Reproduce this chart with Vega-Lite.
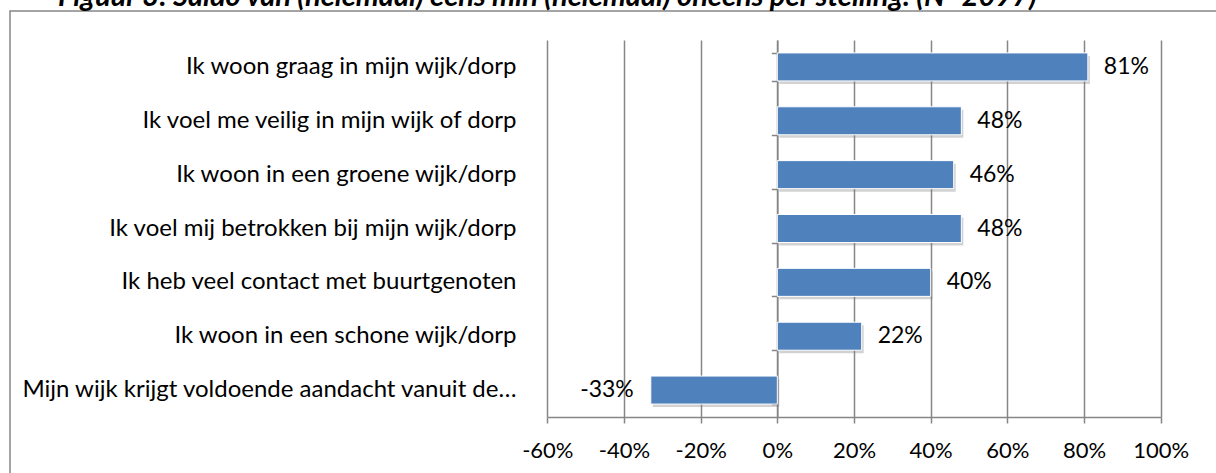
{
  "$schema": "https://vega.github.io/schema/vega-lite/v6.json",
  "autosize": {"type": "none"},
  "width": 1207,
  "height": 463,
  "padding": {"left": 10, "top": 11, "right": -1, "bottom": -1},
  "background": "white",
  "title": {
    "text": "Figuur 3: Saldo van (helemaal) eens min (helemaal) oneens per stelling. (N=2097)",
    "anchor": "start",
    "frame": "group",
    "dx": 48,
    "dy": 24,
    "font": "Lato",
    "fontSize": 29,
    "fontStyle": "italic",
    "fontWeight": "bold",
    "color": "#000000",
    "baseline": "alphabetic",
    "offset": 0
  },
  "config": {
    "locale": {"number": {"decimal": ".", "thousands": ",", "grouping": [3], "currency": ["", ""], "minus": "-"}},
    "view": {"stroke": "#868686", "strokeWidth": 1.5},
    "axis": {
      "labelFont": "Lato",
      "labelColor": "#000000",
      "domainColor": "#868686",
      "tickColor": "#868686",
      "gridColor": "#868686",
      "domainWidth": 1.5,
      "tickWidth": 1.5,
      "gridWidth": 1.5
    }
  },
  "data": {
    "values": [
      {"stelling": "Ik woon graag in mijn wijk/dorp", "saldo": 0.81},
      {"stelling": "Ik voel me veilig in mijn wijk of dorp", "saldo": 0.48},
      {"stelling": "Ik woon in een groene wijk/dorp", "saldo": 0.46},
      {"stelling": "Ik voel mij betrokken bij mijn wijk/dorp", "saldo": 0.48},
      {"stelling": "Ik heb veel contact met buurtgenoten", "saldo": 0.40},
      {"stelling": "Ik woon in een schone wijk/dorp", "saldo": 0.22},
      {"stelling": "Mijn wijk krijgt voldoende aandacht vanuit de…", "saldo": -0.33}
    ]
  },
  "layer": [
    {
      "mark": {"type": "bar", "color": "#7f7f7f", "opacity": 0.35, "xOffset": 2, "yOffset": 3},
      "encoding": {
        "y": {
          "field": "stelling", "type": "nominal", "sort": null,
          "scale": {"range": [29, 406], "paddingInner": 0.48, "paddingOuter": 0.24},
          "axis": {
            "orient": "left", "offset": -506, "title": null, "domain": false, "ticks": false,
            "grid": false, "labelPadding": 0, "labelFontSize": 24, "labelLimit": 0,
            "minExtent": 0, "maxExtent": 0
          }
        },
        "x": {
          "field": "saldo", "type": "quantitative",
          "scale": {"domain": [-0.6, 1.0], "range": [537.3, 1150.7], "nice": false, "zero": true},
          "axis": {
            "orient": "top", "title": null, "domain": false, "ticks": false, "labels": false,
            "values": [-0.6, -0.4, -0.2, 0, 0.2, 0.4, 0.6, 0.8, 1.0],
            "grid": true, "minExtent": 0, "maxExtent": 0
          }
        }
      }
    },
    {
      "mark": {"type": "bar", "color": "#4F81BD", "stroke": "#ffffff", "strokeWidth": 1},
      "encoding": {
        "y": {
          "field": "stelling", "type": "nominal", "sort": null,
          "axis": {
            "orient": "right", "offset": -439.7, "title": null, "labels": false,
            "domain": true, "ticks": true, "tickBand": "extent", "tickSize": -6, "grid": false,
            "minExtent": 0, "maxExtent": 0
          }
        },
        "x": {
          "field": "saldo", "type": "quantitative",
          "axis": {
            "orient": "bottom", "offset": -57, "title": null,
            "values": [-0.6, -0.4, -0.2, 0, 0.2, 0.4, 0.6, 0.8, 1.0],
            "format": ".0%", "labelFontSize": 22, "tickSize": 6, "labelPadding": 17,
            "labelOverlap": false, "labelFlush": false, "grid": false
          }
        }
      }
    },
    {
      "transform": [{"filter": "datum.saldo >= 0"}],
      "mark": {"type": "text", "align": "left", "baseline": "middle", "dx": 16, "font": "Lato", "fontSize": 23, "color": "#000000"},
      "encoding": {
        "y": {"field": "stelling", "type": "nominal", "sort": null, "axis": null},
        "x": {"field": "saldo", "type": "quantitative", "axis": null},
        "text": {"field": "saldo", "type": "quantitative", "format": ".0%"}
      }
    },
    {
      "transform": [{"filter": "datum.saldo < 0"}],
      "mark": {"type": "text", "align": "right", "baseline": "middle", "dx": -17, "font": "Lato", "fontSize": 23, "color": "#000000"},
      "encoding": {
        "y": {"field": "stelling", "type": "nominal", "sort": null, "axis": null},
        "x": {"field": "saldo", "type": "quantitative", "axis": null},
        "text": {"field": "saldo", "type": "quantitative", "format": ".0%"}
      }
    }
  ],
  "resolve": {"axis": {"y": "independent", "x": "independent"}}
}
